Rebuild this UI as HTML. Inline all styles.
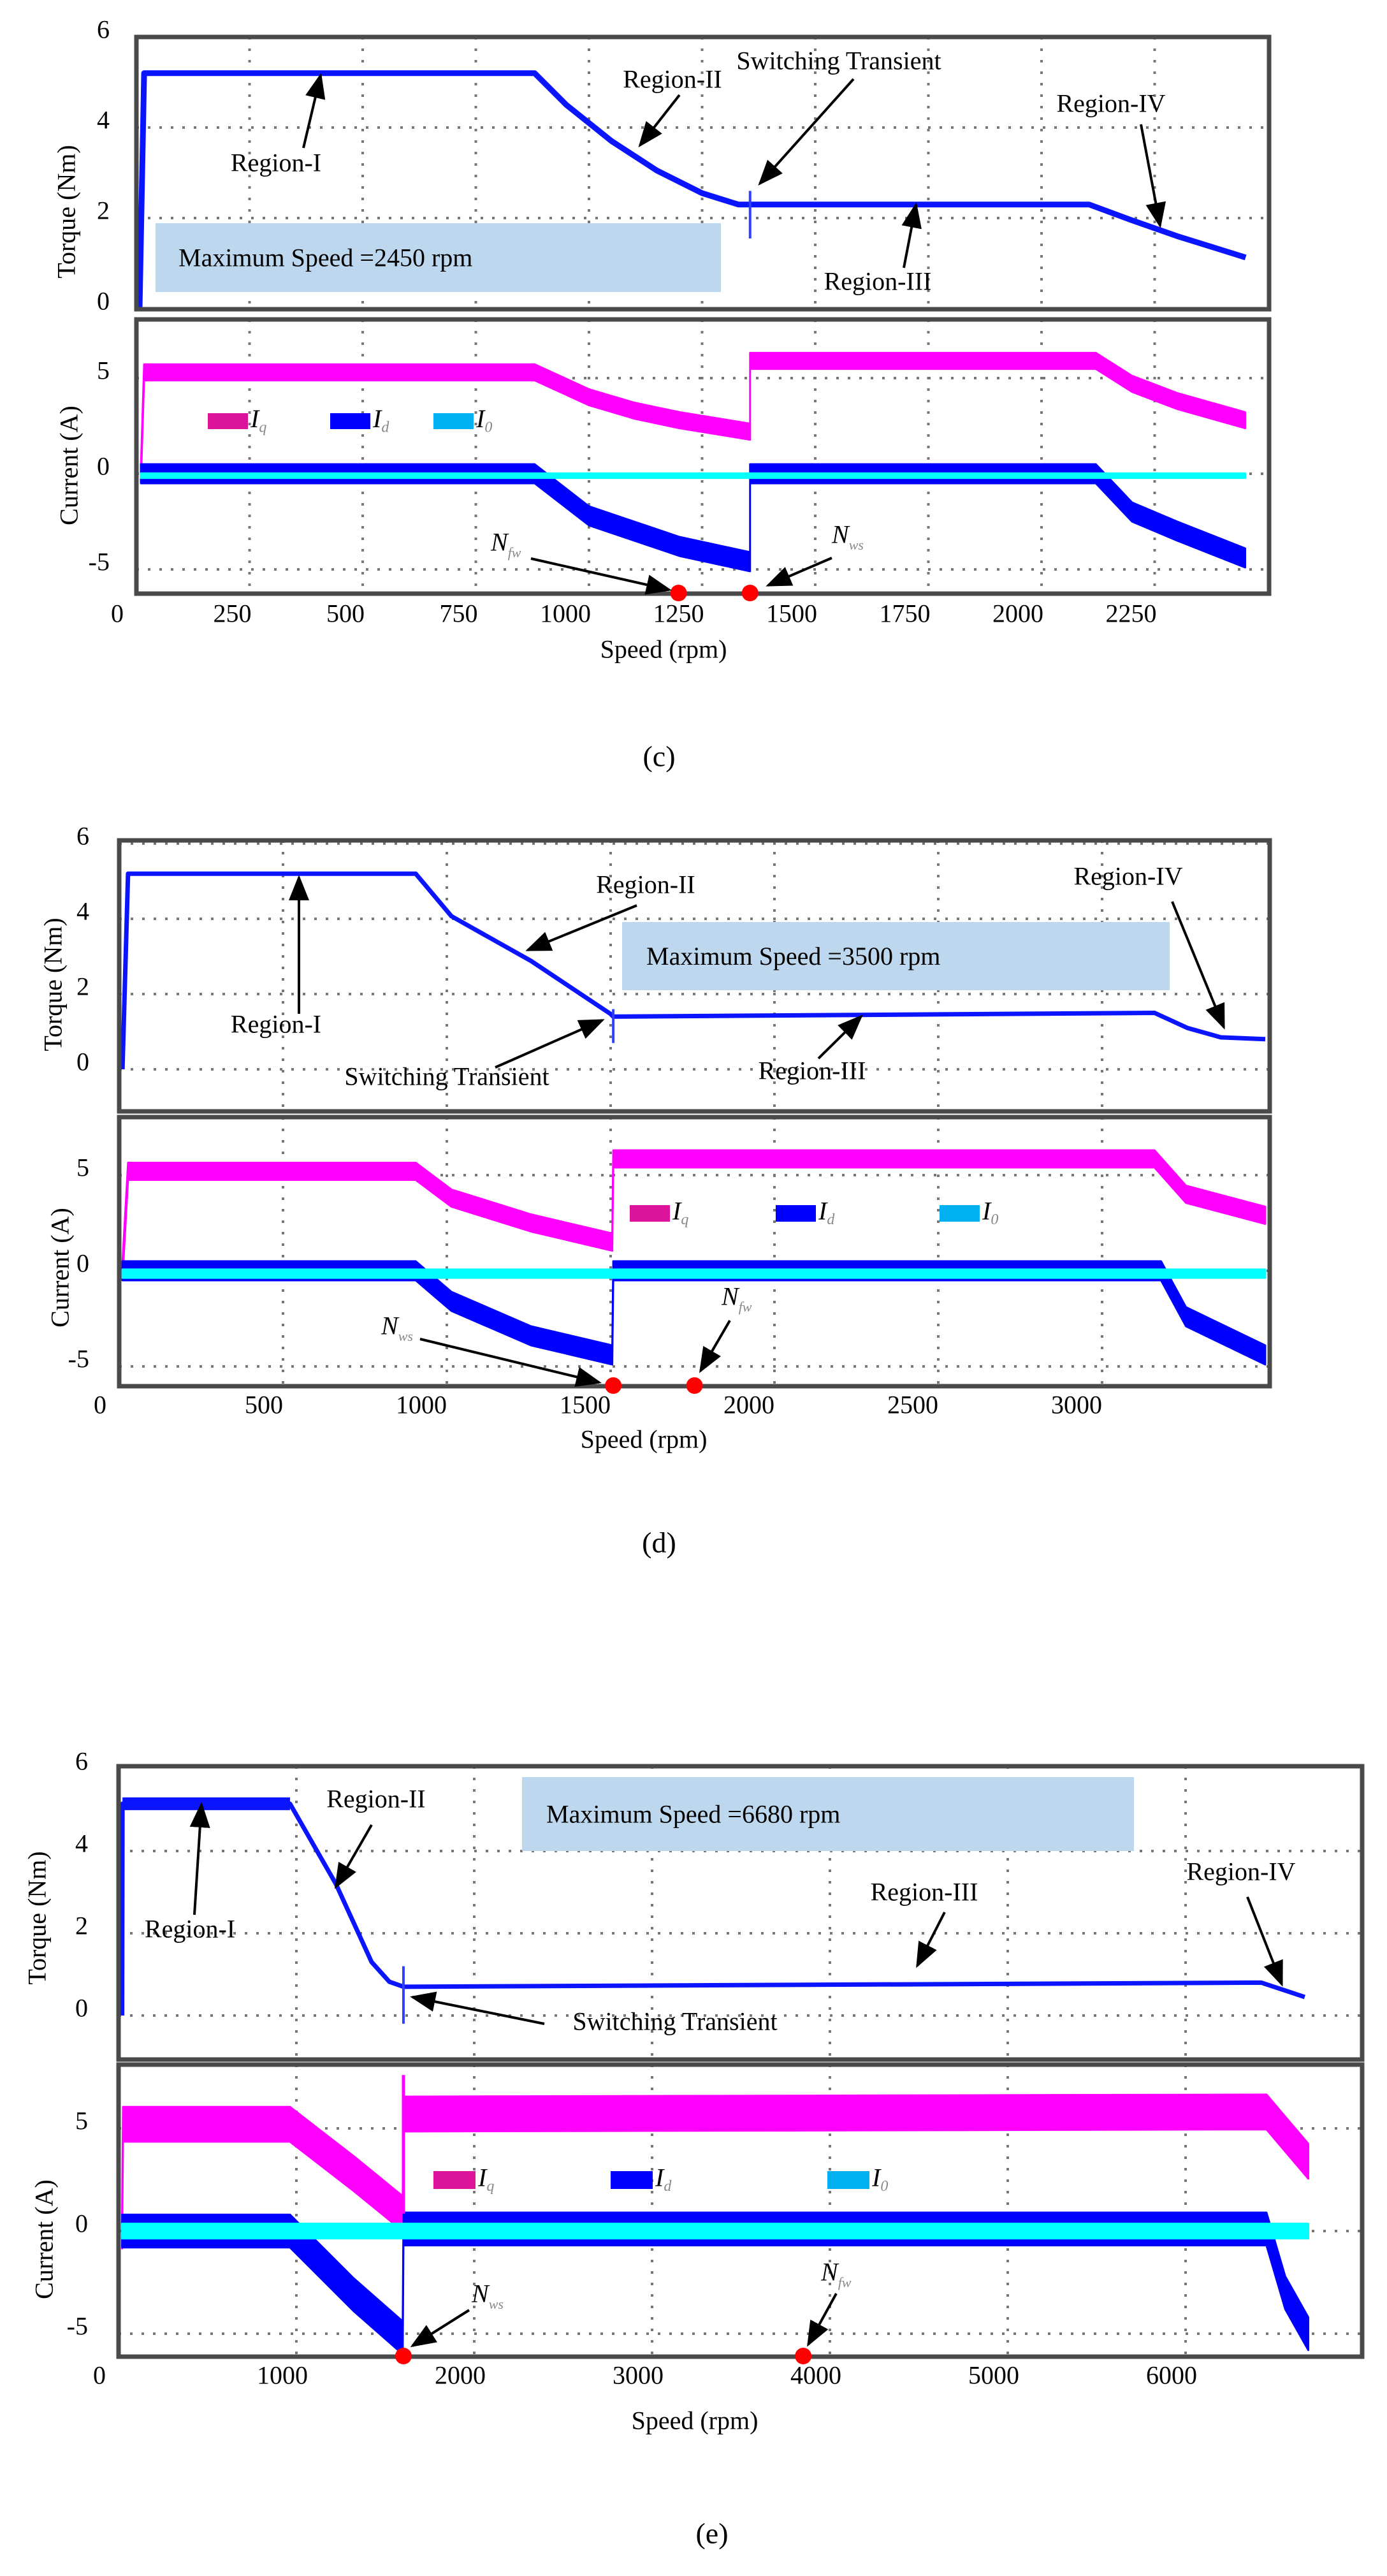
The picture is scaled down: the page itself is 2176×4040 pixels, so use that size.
<!DOCTYPE html>
<html><head><meta charset="utf-8"><title>Torque and current vs speed</title>
<style>
html,body{margin:0;padding:0;background:#fff;}
svg{display:block;font-family:"Liberation Serif",serif;}
</style></head>
<body>
<svg id="fig" xmlns="http://www.w3.org/2000/svg" width="2176" height="4040" viewBox="0 0 2176 4040">
<defs>
<marker id="ah" markerWidth="10" markerHeight="8" refX="9" refY="4" orient="auto" markerUnits="strokeWidth"><path d="M0,0 L10,4 L0,8 Z" fill="#000"/></marker>
</defs>
<rect width="2176" height="4040" fill="#fff"/>
</svg>
<script>
// ---------- DATA: panel (c) ----------
var cTorqueSpeed = [7, 17, 880, 950, 1050, 1150, 1250, 1330, 1356, 2105, 2200, 2300, 2451];
var cTorque      = [0, 5.2, 5.2, 4.5, 3.7, 3.05, 2.55, 2.3, 2.3, 2.3, 1.95, 1.6, 1.13];
var cSpike       = [1356, 2.6, 1.55];
var cIqSpeed = [10, 17, 880, 1000, 1100, 1200, 1356, 1356, 2120, 2200, 2300, 2450];
var cIq      = [0, 5.3, 5.3, 4.0, 3.3, 2.8, 2.2, 5.9, 5.9, 4.7, 3.8, 2.8];
var cIdSpeed = [10, 880, 1000, 1100, 1200, 1356, 1356, 2120, 2200, 2300, 2450];
var cId      = [0, 0, -2.2, -3.0, -3.8, -4.6, 0, 0, -2.0, -3.0, -4.4];
var cI0Speed = [10, 2450];
var cI0      = [-0.1, -0.1];
var cMarkSpeed = [1198, 1356];
var cMarkLabel = ["fw", "ws"];
var cXTicks = [0, 250, 500, 750, 1000, 1250, 1500, 1750, 2000, 2250];
var cTorqueTicks = [0, 2, 4, 6];
var cCurrentTicks = [-5, 0, 5];

// ---------- DATA: panel (d) ----------
var dTorqueSpeed = [10, 27, 905, 1014, 1257, 1500, 1508, 3160, 3260, 3362, 3498];
var dTorque      = [0, 5.2, 5.2, 4.07, 2.88, 1.47, 1.4, 1.5, 1.1, 0.85, 0.8];
var dSpike       = [1508, 1.6, 0.7];
var dIqSpeed = [10, 27, 905, 1014, 1257, 1505, 1508, 3160, 3256, 3498];
var dIq      = [0, 5.2, 5.2, 3.8, 2.5, 1.5, 5.85, 5.85, 4.0, 2.9];
var dIdSpeed = [10, 905, 1014, 1257, 1505, 1508, 3180, 3256, 3498];
var dId      = [0, 0, -1.6, -3.4, -4.4, 0, 0, -2.4, -4.4];
var dI0Speed = [10, 3498];
var dI0      = [-0.15, -0.15];
var dMarkSpeed = [1508, 1756];
var dMarkLabel = ["ws", "fw"];
var dXTicks = [0, 500, 1000, 1500, 2000, 2500, 3000];
var dTorqueTicks = [0, 2, 4, 6];
var dCurrentTicks = [-5, 0, 5];

// ---------- DATA: panel (e) ----------
var eTorqueSpeed = [20, 22, 964, 1222, 1423, 1523, 1602, 6426, 6670];
var eTorque      = [0, 5.15, 5.15, 3.2, 1.3, 0.82, 0.7, 0.8, 0.45];
var eSpike       = [1602, 1.2, -0.2];
var eIqSpeed = [20, 25, 964, 1322, 1598, 1602, 6455, 6690];
var eIq      = [0, 5.2, 5.2, 2.8, 0.85, 5.7, 5.8, 3.4];
var eIqSpike = [1602, 0.85, 7.6];
var eIdSpeed = [20, 964, 1322, 1598, 1602, 6455, 6560, 6690];
var eId      = [0, 0, -3.1, -5.2, 0.1, 0.1, -3.0, -5.0];
var eI0Speed = [20, 6690];
var eI0      = [0, 0];
var eMarkSpeed = [1602, 3850];
var eMarkLabel = ["ws", "fw"];
var eXTicks = [0, 1000, 2000, 3000, 4000, 5000, 6000];
var eTorqueTicks = [0, 2, 4, 6];
var eCurrentTicks = [-5, 0, 5];

var NS = "http://www.w3.org/2000/svg";
var svg = document.getElementById("fig");
function mk(tag, attrs, parent) {
  var el = document.createElementNS(NS, tag);
  for (var k in attrs) el.setAttribute(k, attrs[k]);
  (parent || svg).appendChild(el);
  return el;
}

function drawPanel(P) {
  var g = mk("g", {});
  
  
  var sx = function (v) { return P.left + (v - 0) * P.pxPerRpm; };
  var ty = function (v) { return P.tZero - v * P.tPer; };
  var cy = function (v) { return P.cZero - v * P.cPer; };

  // plot backgrounds
  var clipT = "clipT" + P.id, clipC = "clipC" + P.id;
  var defs = mk("defs", {}, g);
  var cp1 = mk("clipPath", { id: clipT }, defs);
  mk("rect", { x: P.left, y: P.tTop, width: P.right - P.left, height: P.tBot - P.tTop }, cp1);
  var cp2 = mk("clipPath", { id: clipC }, defs);
  mk("rect", { x: P.left, y: P.cTop, width: P.right - P.left, height: P.cBot - P.cTop }, cp2);

  // grid
  var grid = mk("g", { stroke: "#777", "stroke-width": 4, "stroke-dasharray": "4 14" }, g);
  
  
  P.xTicks.forEach(function (t) {
    if (t === 0) return;
    var x = sx(t);
    mk("line", { x1: x, y1: P.tTop, x2: x, y2: P.tBot }, grid);
    mk("line", { x1: x, y1: P.cTop, x2: x, y2: P.cBot }, grid);
  });
  P.tTicks.forEach(function (t) {
    var y = ty(t);
    if (y <= P.tTop + 4 || y >= P.tBot - 4) return;
    mk("line", { x1: P.left, y1: y, x2: P.right, y2: y }, grid);
  });
  P.cTicks.forEach(function (t) {
    var y = cy(t);
    mk("line", { x1: P.left, y1: y, x2: P.right, y2: y }, grid);
  });

  // max speed box
  var mb = mk("rect", { x: P.box[0], y: P.box[1], width: P.box[2], height: P.box[3], fill: "#bdd7ee" }, g);
  
  
  var mt = mk("text", { x: P.box[0] + P.boxTextDx, y: P.box[1] + P.box[3] / 2, "font-size": 40, "dominant-baseline": "central", fill: "#000" }, g);
  mt.textContent = P.boxText;
  
  

  // torque line
  var tg = mk("g", { "clip-path": "url(#" + clipT + ")" }, g);
  var pts = P.tSpeed.map(function (s, i) { return sx(s) + "," + ty(P.tVal[i]); }).join(" ");
  var tl = mk("polyline", { points: pts, fill: "none", stroke: "#0a14ff", "stroke-width": P.tWidth, "stroke-linejoin": "round" }, tg);
  
  
  if (P.tThick) {
    var ptsR1 = P.tSpeed.slice(1, 3).map(function (s, i) { return sx(s) + "," + ty(P.tVal[i + 1]); }).join(" ");
    var tr1 = mk("polyline", { points: ptsR1, fill: "none", stroke: "#0a14ff", "stroke-width": P.tThick }, tg);
    
    
  }
  var sp = mk("line", { x1: sx(P.spike[0]), y1: ty(P.spike[1]), x2: sx(P.spike[0]), y2: ty(P.spike[2]), stroke: "#3040ff", "stroke-width": 4 }, tg);
  
  

  // current bands
  var cg = mk("g", { "clip-path": "url(#" + clipC + ")" }, g);
  function band(speeds, vals, half, color, name) {
    var up = speeds.map(function (s, i) { return sx(s) + "," + cy(vals[i] + half); });
    var lo = speeds.map(function (s, i) { return sx(s) + "," + cy(vals[i] - half); }).reverse();
    var el = mk("polygon", { points: up.concat(lo).join(" "), fill: color, stroke: color, "stroke-width": 3, "stroke-linejoin": "round" }, cg);
    
    
  }
  band(P.iqS, P.iq, P.iqH, "#ff00ff", "iq-band");
  band(P.idS, P.id_, P.idH, "#0000ff", "id-band");
  band(P.i0S, P.i0, P.i0H, "#00ffff", "i0-band");
  if (P.iqSpike) {
    var qs = mk("line", { x1: sx(P.iqSpike[0]), y1: cy(P.iqSpike[1]), x2: sx(P.iqSpike[0]), y2: cy(P.iqSpike[2]), stroke: "#ff00ff", "stroke-width": 5 }, cg);
    
    
  }

  // frames
  [[P.tTop, P.tBot, "torque-plot-frame"], [P.cTop, P.cBot, "current-plot-frame"]].forEach(function (f) {
    var r = mk("rect", { x: P.left, y: f[0], width: P.right - P.left, height: f[1] - f[0], fill: "none", stroke: "#4a4a4a", "stroke-width": 7 }, g);
    
    
  });

  // tick labels
  P.xTicks.forEach(function (t) {
    var tx = mk("text", { x: sx(t) + (t === 0 ? -30 : P.xLabDx), y: P.xLabY, "font-size": 40, "text-anchor": t === 0 ? "middle" : "end", "dominant-baseline": "central" }, g);
    tx.textContent = t;
    
    
  });
  P.tTicks.forEach(function (t) {
    var tx = mk("text", { x: P.yLabX, y: ty(t) - 12, "font-size": 40, "text-anchor": "end", "dominant-baseline": "central" }, g);
    tx.textContent = t;
    
    
  });
  P.cTicks.forEach(function (t) {
    var tx = mk("text", { x: P.yLabX, y: cy(t) - 12, "font-size": 40, "text-anchor": "end", "dominant-baseline": "central" }, g);
    tx.textContent = t;
    
    
  });

  // axis titles
  var a1 = mk("text", { x: 0, y: 0, "font-size": 40, "text-anchor": "middle", "dominant-baseline": "central", transform: "translate(" + P.tTitle[0] + "," + P.tTitle[1] + ") rotate(-90)" }, g);
  a1.textContent = "Torque (Nm)";
  
  
  var a2 = mk("text", { x: 0, y: 0, "font-size": 40, "text-anchor": "middle", "dominant-baseline": "central", transform: "translate(" + P.cTitle[0] + "," + P.cTitle[1] + ") rotate(-90)" }, g);
  a2.textContent = "Current (A)";
  
  
  var a3 = mk("text", { x: P.speedTitle[0], y: P.speedTitle[1], "font-size": 40, "text-anchor": "middle", "dominant-baseline": "central" }, g);
  a3.textContent = "Speed (rpm)";
  
  
  var cap = mk("text", { x: P.caption[0], y: P.caption[1], "font-size": 46, "text-anchor": "middle", "dominant-baseline": "central" }, g);
  cap.textContent = "(" + P.id + ")";
  
  

  // annotations
  P.notes.forEach(function (n) {
    var t = mk("text", { x: n[1], y: n[2], "font-size": 40, "text-anchor": "middle", "dominant-baseline": "central" }, g);
    t.textContent = n[0];
    
    
    var l = mk("line", { x1: n[3], y1: n[4], x2: n[5], y2: n[6], stroke: "#000", "stroke-width": 4, "marker-end": "url(#ah)" }, g);
    
    
  });

  // legend
  var lg = mk("g", {}, g);
  
  
  var cols = ["#dc149c", "#0000ff", "#00b0f0"], subs = ["q", "d", "0"], lnames = ["iq", "id", "i0"];
  P.legX.forEach(function (x, i) {
    var s = mk("rect", { x: x, y: P.legY, width: P.legW, height: P.legH, fill: cols[i] }, lg);
    
    
    var t = mk("text", { x: x + P.legW + 4, y: P.legY + P.legH / 2 - 4, "font-size": 40, "font-style": "italic", "dominant-baseline": "central" }, lg);
    
    
    t.appendChild(document.createTextNode("I"));
    var sb = mk("tspan", { "font-size": 24, dy: 14, fill: "#888" }, t);
    sb.textContent = subs[i];
  });

  // operating-point markers
  P.marks.forEach(function (s, i) {
    var d = mk("circle", { cx: sx(s), cy: P.cBot - 1, r: 13, fill: "#ff0000" }, g);
    
    
  });
  P.markNotes.forEach(function (n) {
    var t = mk("text", { x: n[1], y: n[2], "font-size": 40, "font-style": "italic", "dominant-baseline": "central" }, g);
    
    
    t.appendChild(document.createTextNode("N"));
    var sb = mk("tspan", { "font-size": 22, dy: 16, fill: "#888" }, t);
    sb.textContent = n[0];
    var l = mk("line", { x1: n[3], y1: n[4], x2: n[5], y2: n[6], stroke: "#000", "stroke-width": 4, "marker-end": "url(#ah)" }, g);
    
    
  });
}

drawPanel({
  id: "c", left: 214, right: 1991, pxPerRpm: 177.5 / 250,
  tTop: 58, tBot: 485, tZero: 484, tPer: 71,
  cTop: 501, cBot: 931, cZero: 743, cPer: 30,
  xTicks: cXTicks, tTicks: cTorqueTicks, cTicks: cCurrentTicks,
  tSpeed: cTorqueSpeed, tVal: cTorque, tWidth: 9, spike: cSpike,
  iqS: cIqSpeed, iq: cIq, iqH: 0.42, idS: cIdSpeed, id_: cId, idH: 0.5, i0S: cI0Speed, i0: cI0, i0H: 0.12,
  marks: cMarkSpeed, markLabel: cMarkLabel,
  box: [244, 350, 887, 108], boxTextDx: 36, boxText: "Maximum Speed =2450 rpm",
  xLabDx: 3, xLabY: 962, yLabX: 172,
  tTitle: [104, 332], cTitle: [108, 730], speedTitle: [1041, 1018], caption: [1034, 1186],
  notes: [
    ["Region-I", 433, 255, 476, 232, 503, 118],
    ["Region-II", 1055, 124, 1066, 149, 1004, 228],
    ["Switching Transient", 1316, 95, 1339, 124, 1192, 288],
    ["Region-IV", 1743, 162, 1790, 195, 1820, 354],
    ["Region-III", 1377, 441, 1418, 420, 1437, 321]
  ],
  legX: [326, 518, 680], legY: 648, legW: 63, legH: 25,
  markNotes: [
    ["fw", 770, 850, 833, 876, 1050, 925],
    ["ws", 1305, 838, 1305, 875, 1205, 918]
  ]
});

drawPanel({
  id: "d", left: 187, right: 1992, pxPerRpm: 257 / 500,
  tTop: 1318, tBot: 1743, tZero: 1677, tPer: 59,
  cTop: 1752, cBot: 2174, cZero: 1993, cPer: 30,
  xTicks: dXTicks, tTicks: dTorqueTicks, cTicks: dCurrentTicks,
  tSpeed: dTorqueSpeed, tVal: dTorque, tWidth: 7, spike: dSpike,
  iqS: dIqSpeed, iq: dIq, iqH: 0.45, idS: dIdSpeed, id_: dId, idH: 0.5, i0S: dI0Speed, i0: dI0, i0H: 0.22,
  marks: dMarkSpeed, markLabel: dMarkLabel,
  box: [976, 1446, 859, 107], boxTextDx: 38, boxText: "Maximum Speed =3500 rpm",
  xLabDx: 0, xLabY: 2203, yLabX: 140,
  tTitle: [83, 1544], cTitle: [94, 1988], speedTitle: [1010, 2257], caption: [1034, 2419],
  notes: [
    ["Region-II", 1013, 1387, 999, 1420, 828, 1490],
    ["Region-I", 433, 1606, 469, 1590, 469, 1376],
    ["Switching Transient", 701, 1688, 777, 1674, 945, 1600],
    ["Region-III", 1274, 1679, 1284, 1660, 1351, 1594],
    ["Region-IV", 1770, 1374, 1839, 1414, 1920, 1611]
  ],
  legX: [988, 1217, 1474], legY: 1890, legW: 63, legH: 26,
  markNotes: [
    ["ws", 598, 2079, 659, 2100, 940, 2168],
    ["fw", 1132, 2033, 1145, 2071, 1099, 2150]
  ]
});

drawPanel({
  id: "e", left: 186, right: 2137, pxPerRpm: 279 / 1000,
  tTop: 2770, tBot: 3230, tZero: 3161, tPer: 64.5,
  cTop: 3238, cBot: 3696, cZero: 3499, cPer: 32.2,
  xTicks: eXTicks, tTicks: eTorqueTicks, cTicks: eCurrentTicks,
  tSpeed: eTorqueSpeed, tVal: eTorque, tWidth: 7, tThick: 20, spike: eSpike,
  iqS: eIqSpeed, iq: eIq, iqH: 0.85, iqSpike: eIqSpike, idS: eIdSpeed, id_: eId, idH: 0.8, i0S: eI0Speed, i0: eI0, i0H: 0.36,
  marks: eMarkSpeed, markLabel: eMarkLabel,
  box: [819, 2787, 960, 116], boxTextDx: 38, boxText: "Maximum Speed =6680 rpm",
  xLabDx: 18, xLabY: 3725, yLabX: 138,
  tTitle: [58, 3008], cTitle: [69, 3512], speedTitle: [1090, 3796], caption: [1117, 3973],
  notes: [
    ["Region-II", 590, 2821, 583, 2862, 527, 2959],
    ["Region-I", 298, 3025, 305, 3003, 316, 2830],
    ["Region-III", 1450, 2967, 1482, 2999, 1439, 3083],
    ["Region-IV", 1947, 2935, 1957, 2975, 2011, 3112],
    ["Switching Transient", 1059, 3170, 854, 3174, 647, 3132]
  ],
  legX: [680, 958, 1298], legY: 3405, legW: 66, legH: 28,
  markNotes: [
    ["ws", 740, 3597, 736, 3623, 647, 3679],
    ["fw", 1288, 3563, 1312, 3597, 1268, 3677]
  ]
});
</script>
</body></html>
